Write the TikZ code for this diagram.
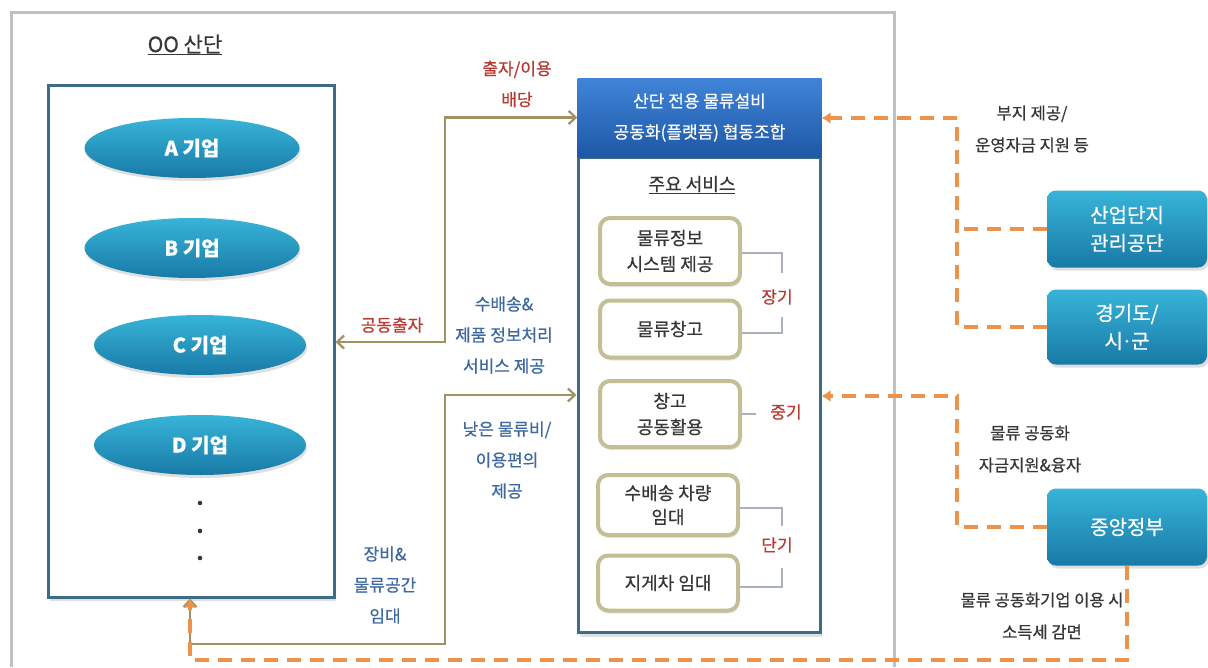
\documentclass[tikz,border=0pt]{standalone}
\usepackage{fontspec}
\setmainfont{Noto Sans CJK KR}[FakeBold=0.5]
\usetikzlibrary{arrows.meta,shapes.geometric,shadows,calc}
\definecolor{frame}{RGB}{192,192,192}
\definecolor{boxb}{RGB}{62,108,136}
\definecolor{ellt}{RGB}{56,180,216}
\definecolor{ellb}{RGB}{24,122,166}
\definecolor{hdrt}{RGB}{64,132,216}
\definecolor{hdrb}{RGB}{30,88,166}
\definecolor{olv}{RGB}{160,146,98}
\definecolor{svcb}{RGB}{196,190,150}
\definecolor{brk}{RGB}{170,176,188}
\definecolor{orng}{RGB}{236,146,74}
\definecolor{redt}{RGB}{184,58,50}
\definecolor{bluet}{RGB}{62,104,160}
\definecolor{darkt}{RGB}{55,55,55}
\tikzset{
  ellip/.style={ellipse, minimum width=215pt, minimum height=60pt, inner sep=0pt,
    top color=ellt, bottom color=ellb, text=white, font=\fontsize{20}{22}\selectfont\bfseries,
    drop shadow={opacity=0.25,shadow xshift=1pt,shadow yshift=-3pt}},
  rbox/.style={rectangle, rounded corners=9pt, minimum width=160pt, minimum height=77pt,
    top color=ellt, bottom color=ellb, text=white, align=center,
    font=\fontsize{20}{28}\selectfont,
    drop shadow={opacity=0.25,shadow xshift=2pt,shadow yshift=-3pt}},
  sbox/.style={rectangle, rounded corners=10pt, draw=svcb, line width=4pt, fill=white,
    minimum width=140pt, align=center, text=darkt, font=\fontsize{18}{26}\selectfont,
    drop shadow={opacity=0.2,shadow xshift=1pt,shadow yshift=-3pt}},
  olvline/.style={draw=olv, line width=2.2pt, {Straight Barb[length=7pt,width=13pt]}-{Straight Barb[length=7pt,width=13pt]}},
  orline/.style={draw=orng, line width=4.5pt, dash pattern=on 14pt off 9pt},
  ortip/.style={-{Latex[length=9pt,width=12pt]}},
  brkline/.style={draw=brk, line width=2.5pt},
  rlab/.style={text=redt, font=\fontsize{17}{31}\selectfont, align=center},
  blab/.style={text=bluet, font=\fontsize{17}{31}\selectfont, align=center},
  dlab/.style={text=darkt, font=\fontsize{16.5}{32}\selectfont, align=center},
}
\begin{document}
\begin{tikzpicture}[x=1pt,y=-1pt]
\useasboundingbox (0,0) rectangle (1208,667);
\fill[white] (0,0) rectangle (1208,667);
% grey frame
\draw[frame, line width=3pt] (11,667) -- (11,12) -- (894,12) -- (894,667);

% left zone
\node[text=darkt, font=\fontsize{21}{24}\selectfont] (ttl) at (185,45) {\underline{OO 산단}};
\node[rectangle, draw=boxb, line width=3pt, fill=white, minimum width=286pt, minimum height=512pt,
  drop shadow={opacity=0.25,shadow xshift=2pt,shadow yshift=-4pt}] (zone) at (191,341) {};
\node[ellip] (ea) at (192,148) {A 기업};
\node[ellip] (eb) at (192,248) {B 기업};
\node[ellip, minimum width=212pt] (ec) at (200,345) {C 기업};
\node[ellip, minimum width=212pt] (ed) at (200,445) {D 기업};
\fill[darkt] (200,503) circle (2.3pt) (200,531) circle (2.3pt) (200,558) circle (2.3pt);

% platform
\node[rectangle, draw=boxb, line width=3pt, fill=white, minimum width=242pt, minimum height=475pt,
  drop shadow={opacity=0.25,shadow xshift=2pt,shadow yshift=-4pt}] (svc) at (699,395) {};
\node[rectangle, minimum width=244pt, minimum height=79pt, top color=hdrt, bottom color=hdrb,
  text=white, align=center, font=\fontsize{17}{31}\selectfont] (hdr) at (699.5,117.5)
  {산단 전용 물류설비\\공동화(플랫폼) 협동조합};
\node[text=darkt, font=\fontsize{18}{20}\selectfont] (svct) at (692,185) {\underline{주요 서비스}};

\node[sbox, minimum height=66pt] (s1) at (670,251) {물류정보\\시스템 제공};
\node[sbox, minimum height=57pt] (s2) at (670,329) {물류창고};
\node[sbox, minimum height=66pt] (s3) at (670,414) {창고\\공동활용};
\node[sbox, minimum height=60pt] (s4) at (668,505) {수배송 차량\\[-2pt]임대};
\node[sbox, minimum height=55pt] (s5) at (668,583) {지게차 임대};

% brackets
\coordinate (k1) at (782,253);
\coordinate (k2) at (782,333);
\draw[brkline] (s1.east |- k1) -- (k1) -- ++(0,20);
\draw[brkline] (s2.east |- k2) -- (k2) -- ++(0,-16);
\node[rlab] (lg) at (777,297) {장기};
\draw[brkline] (s3.east) -- ++(14,0);
\node[rlab] (mid) at (786,412) {중기};
\coordinate (k3) at (782,508);
\coordinate (k4) at (782,587);
\draw[brkline] (s4.east |- k3) -- (k3) -- ++(0,18);
\draw[brkline] (s5.east |- k4) -- (k4) -- ++(0,-19);
\node[rlab] (sh) at (777,545) {단기};

% olive arrows
\coordinate (j1) at (445,342);
\draw[olvline] (zone.east |- j1) -- (j1) |- (hdr.west);
\coordinate (j2) at (445,644);
\coordinate (j3) at (190,644);
\coordinate (j4) at (445,395);
\draw[olvline] (zone.south -| j3) -- (j3) -- (j2) |- (svc.west |- j4);

\node[rlab] (l1) at (517,84) {출자/이용\\배당};
\node[rlab] (l2) at (392,325) {공동출자};
\node[blab] (l3) at (504,335) {수배송\&\\제품 정보처리\\서비스 제공};
\node[blab] (l4) at (507,460) {낮은 물류비/\\이용편의\\제공};
\node[blab] (l5) at (385,585) {장비\&\\물류공간\\임대};

% right boxes
\node[rbox] (ind) at (1127,229) {산업단지\\관리공단};
\node[rbox, minimum height=75pt] (gyg) at (1127,327) {경기도/\\시\kern-1.5pt·\kern-1.5pt군};
\node[rbox] (gov) at (1127,527) {중앙정부};

% orange dashed arrows
\coordinate (o1) at (957,118);
\draw[orline, ortip] (gyg.west) -| (o1) -- (hdr.east |- o1);
\draw[orline] (ind.west) -- (ind.west -| o1);
\coordinate (o2) at (957,396);
\draw[orline, ortip] (gov.west) -| (o2) -- (svc.east |- o2);
\coordinate (o3) at (190,660);
\draw[orline, ortip] (gov.south) |- (o3) -- (zone.south -| o3);

\node[dlab] (r1) at (1032,129) {부지 제공/\\운영자금 지원 등};
\node[dlab] (r2) at (1030,449) {물류 공동화\\자금지원\&융자};
\node[dlab, fill=white, inner sep=1pt] (r3) at (1042,616) {물류 공동화기업 이용 시\\소득세 감면};
\end{tikzpicture}
\end{document}
